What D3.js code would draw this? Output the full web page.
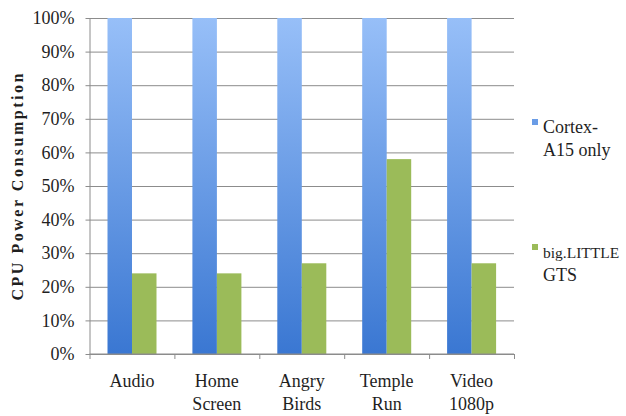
<!DOCTYPE html>
<html>
<head>
<meta charset="utf-8">
<script src="https://cdn.jsdelivr.net/npm/d3@7"></script>
<style>
  body { margin: 0; background: #fff; }
  text { font-family: 'Liberation Serif', serif; fill: #1f1f1f; }
</style>
</head>
<body>
<div id="chart"></div>
<script>
const categories = [['Audio'], ['Home', 'Screen'], ['Angry', 'Birds'], ['Temple', 'Run'], ['Video', '1080p']];
const seriesNames = [['Cortex-', 'A15 only'], ['big.LITTLE', 'GTS']];
const cortexValues = [100, 100, 100, 100, 100];
const bigLittleValues = [24, 24, 27, 58, 27];
const yTicks = [0, 10, 20, 30, 40, 50, 60, 70, 80, 90, 100];

const W = 626;
const H = 416;
const margin = { t: 18, r: 112, b: 62, l: 89.5 };
const innerW = W - margin.l - margin.r;
const innerH = H - margin.t - margin.b;
const grid = '#8c8c8c';

const svg = d3.select('#chart').append('svg')
  .attr('width', W)
  .attr('height', H);

// blue bar gradient
const defs = svg.append('defs');
const blueGrad = defs.append('linearGradient')
  .attr('id', 'blue-grad')
  .attr('x1', '0%').attr('y1', '0%')
  .attr('x2', '0%').attr('y2', '100%');
blueGrad.append('stop').attr('offset', 0).attr('stop-color', '#97bff8');
blueGrad.append('stop').attr('offset', 1).attr('stop-color', '#3a77d2');

const g = svg.append('g')
  .attr('transform', `translate(${margin.l}, ${margin.t})`);

const keys = categories.map(c => c.join(' '));
const scaleX = d3.scaleBand().domain(keys).range([0, innerW]);
const scaleSub = d3.scaleBand().domain([0, 1]).range([18, 67]);
const scaleY = d3.scaleLinear().domain([0, 100]).range([innerH, 0]);

// grid lines + y axis
const yAxis = d3.axisLeft(scaleY)
  .tickValues(yTicks)
  .tickSize(-innerW)
  .tickPadding(10)
  .tickFormat(d => d + '%');

const yAxisG = g.append('g').call(yAxis);
yAxisG.select('.domain').attr('stroke', grid).attr('d', `M0.5,0V${innerH}`);
yAxisG.selectAll('.tick line')
  .attr('stroke', grid)
  .attr('x1', -4)
  .attr('x2', innerW);
yAxisG.selectAll('.tick text')
  .style('font-size', '18px')
  .attr('fill', '#1f1f1f')
  .attr('x', -15);

// bars
const rows = categories.map((c, i) => ({ key: keys[i], values: [cortexValues[i], bigLittleValues[i]] }));
const fills = ['url(#blue-grad)', '#9bbb59'];

const groups = g.selectAll('.group')
  .data(rows)
  .enter().append('g')
  .attr('class', 'group')
  .attr('transform', d => `translate(${scaleX(d.key)}, 0)`);

groups.selectAll('rect')
  .data(d => d.values)
  .enter().append('rect')
  .attr('x', (d, i) => scaleSub(i))
  .attr('width', scaleSub.bandwidth())
  .attr('y', d => scaleY(d))
  .attr('height', d => innerH - scaleY(d))
  .attr('fill', (d, i) => fills[i]);

// x axis
const xAxisG = g.append('g').attr('transform', `translate(0, ${innerH})`);
xAxisG.append('line')
  .attr('x1', 0).attr('x2', innerW)
  .attr('stroke', grid);
xAxisG.selectAll('.xtick')
  .data(d3.range(keys.length + 1))
  .enter().append('line')
  .attr('x1', i => i * scaleX.step() + 0.5)
  .attr('x2', i => i * scaleX.step() + 0.5)
  .attr('y1', 0).attr('y2', 5)
  .attr('stroke', grid);

const xLabels = xAxisG.selectAll('.xlabel')
  .data(categories)
  .enter().append('text')
  .attr('class', 'xlabel')
  .attr('text-anchor', 'middle')
  .style('font-size', '18px')
  .attr('transform', (d, i) => `translate(${scaleX(keys[i]) + scaleX.bandwidth() / 2}, 33)`);
xLabels.selectAll('tspan')
  .data(d => d)
  .enter().append('tspan')
  .attr('x', 0)
  .attr('y', (d, i) => i * 23)
  .text(d => d);

// y title
svg.append('text')
  .attr('transform', 'translate(23, 187) rotate(-90)')
  .attr('text-anchor', 'middle')
  .style('font-size', '16px')
  .style('font-weight', 'bold')
  .attr('textLength', 227)
  .attr('lengthAdjust', 'spacing')
  .text('CPU Power Consumption');

// legend
const legendColors = ['#6a9ce6', '#9bbb59'];
const legendY = [119, 244];
const legend = svg.selectAll('.legend')
  .data(seriesNames)
  .enter().append('g')
  .attr('class', 'legend')
  .attr('transform', (d, i) => `translate(532, ${legendY[i]})`);
legend.append('rect')
  .attr('width', 6).attr('height', 6)
  .attr('fill', (d, i) => legendColors[i]);
const legendText = legend.append('text')
  .style('font-size', '18px');
legendText.selectAll('tspan')
  .data(d => d)
  .enter().append('tspan')
  .attr('x', 11)
  .attr('y', (d, i) => 14 + i * 23)
  .style('font-size', d => d.length > 8 ? '15.5px' : null)
  .text(d => d);
</script>
</body>
</html>
